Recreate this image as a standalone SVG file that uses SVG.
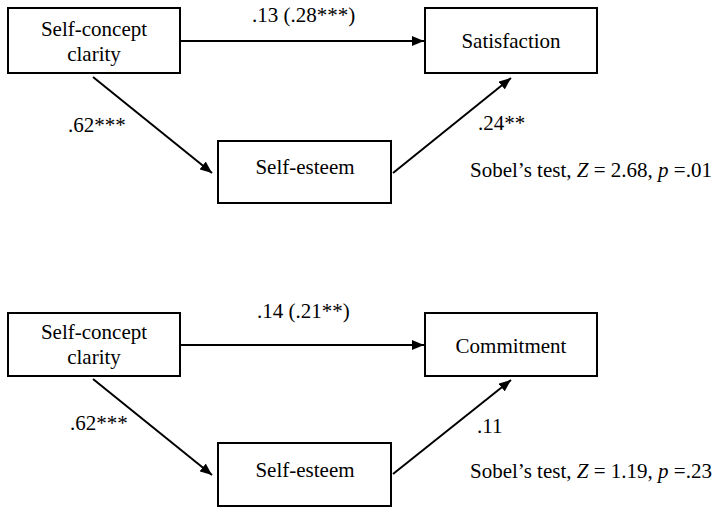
<svg xmlns="http://www.w3.org/2000/svg" width="716" height="507" viewBox="0 0 716 507">
<style>
text{font-family:'Liberation Serif','Times New Roman','DejaVu Serif',serif;font-size:21px;fill:#000}
.box{fill:#fff;stroke:#000;stroke-width:2}
.edge{stroke:#000;stroke-width:2;fill:none;marker-end:url(#ah)}
.m{text-anchor:middle}
</style>
<defs>
<marker id="ah" viewBox="0 0 12 10" refX="12" refY="5" markerWidth="12" markerHeight="10" markerUnits="userSpaceOnUse" orient="auto">
<path d="M0,0 L12,5 L0,10 Z" fill="#000"/>
</marker>
</defs>
<rect width="716" height="507" fill="#fff"/>
<g id="connectors">
<line class="edge" x1="180" y1="41" x2="424" y2="41"/>
<line class="edge" x1="93" y1="77" x2="212" y2="173"/>
<line class="edge" x1="393" y1="173" x2="511" y2="78"/>
<line class="edge" x1="180" y1="345" x2="424" y2="345"/>
<line class="edge" x1="93" y1="379" x2="212" y2="475"/>
<line class="edge" x1="393" y1="474" x2="511" y2="380"/>
</g>
<g id="scc1"><rect class="box" x="8" y="8" width="172" height="65"/><text class="m" x="94" y="36" font-family="Liberation Serif, serif">Self-concept</text><text class="m" x="94" y="61" font-family="Liberation Serif, serif">clarity</text></g>
<g id="sat"><rect class="box" x="425" y="8" width="172" height="65"/><text class="m" x="511" y="48">Satisfaction</text></g>
<g id="se1"><rect class="box" x="218" y="141" width="173" height="62"/><text class="m" x="305" y="174">Self-esteem</text></g>
<g id="labels1">
<text x="252" y="22">.13 (.28***)</text>
<text x="68" y="132">.62***</text>
<text x="478" y="130">.24**</text>
<text x="470" y="177">Sobel’s test, <tspan font-style="italic">Z</tspan> = 2.68, <tspan font-style="italic">p</tspan> =.01</text>
</g>
<g id="scc2"><rect class="box" x="8" y="313" width="172" height="63"/><text class="m" x="94" y="339">Self-concept</text><text class="m" x="94" y="364">clarity</text></g>
<g id="com"><rect class="box" x="425" y="313" width="172" height="63"/><text class="m" x="511" y="353">Commitment</text></g>
<g id="se2"><rect class="box" x="218" y="443" width="173" height="63"/><text class="m" x="305" y="477">Self-esteem</text></g>
<g id="labels2">
<text x="257" y="318">.14 (.21**)</text>
<text x="70" y="430">.62***</text>
<text x="477" y="433">.11</text>
<text x="470" y="478">Sobel’s test, <tspan font-style="italic">Z</tspan> = 1.19, <tspan font-style="italic">p</tspan> =.23</text>
</g>
</svg>
